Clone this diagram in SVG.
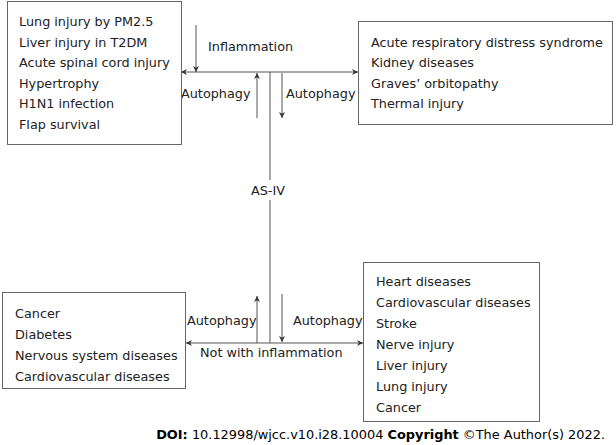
<svg xmlns="http://www.w3.org/2000/svg" width="616" height="445" viewBox="0 0 616 445">
<style>
text{font-family:"DejaVu Sans","Verdana",sans-serif;font-size:12.8px;fill:#222}
.box{fill:#fff;stroke:#666;stroke-width:1}
.ln{stroke:#555;stroke-width:1;fill:none}
.ft{font-size:12.9px;fill:#000}
</style>
<defs>
<marker id="ah" viewBox="0 0 10 10" refX="10" refY="5" markerWidth="8" markerHeight="6" markerUnits="userSpaceOnUse" orient="auto">
<path d="M0,0 L10,5 L0,10 L3,5 z" fill="#333"/>
</marker>
</defs>
<rect width="616" height="445" fill="#fff"/>
<g id="connectors">
<line class="ln" x1="270" y1="72" x2="270" y2="180"/>
<line class="ln" x1="270" y1="200" x2="270" y2="343"/>
<line class="ln" x1="270" y1="72" x2="181" y2="72" marker-end="url(#ah)"/>
<line class="ln" x1="270" y1="72" x2="358" y2="72" marker-end="url(#ah)"/>
<line class="ln" x1="196" y1="25" x2="196" y2="72" marker-end="url(#ah)"/>
<line class="ln" x1="257" y1="118" x2="257" y2="73" marker-end="url(#ah)"/>
<line class="ln" x1="282" y1="73" x2="282" y2="118" marker-end="url(#ah)"/>
<line class="ln" x1="270" y1="343" x2="186" y2="343" marker-end="url(#ah)"/>
<line class="ln" x1="270" y1="343" x2="363" y2="343" marker-end="url(#ah)"/>
<line class="ln" x1="257" y1="343" x2="257" y2="296" marker-end="url(#ah)"/>
<line class="ln" x1="282" y1="294" x2="282" y2="342" marker-end="url(#ah)"/>
<text x="208" y="51">Inflammation</text>
<text x="181" y="98">Autophagy</text>
<text x="286" y="98">Autophagy</text>
<text x="187" y="325">Autophagy</text>
<text x="293" y="325">Autophagy</text>
<text x="200" y="357">Not with inflammation</text>
</g>
<g id="asiv"><text x="268" y="194.5" text-anchor="middle">AS-IV</text></g>
<g id="box-tl">
<rect class="box" x="7.5" y="1.5" width="174" height="143"/>
<text x="19" y="26">Lung injury by PM2.5</text>
<text x="19" y="46.5">Liver injury in T2DM</text>
<text x="19" y="67">Acute spinal cord injury</text>
<text x="19" y="87.5">Hypertrophy</text>
<text x="19" y="108">H1N1 infection</text>
<text x="19" y="128.5">Flap survival</text>
</g>
<g id="box-tr">
<rect class="box" x="358.5" y="21.5" width="254" height="103"/>
<text x="371" y="46.5">Acute respiratory distress syndrome</text>
<text x="371" y="67">Kidney diseases</text>
<text x="371" y="87.5">Graves’ orbitopathy</text>
<text x="371" y="108">Thermal injury</text>
</g>
<g id="box-bl">
<rect class="box" x="2.5" y="292.5" width="183" height="96"/>
<text x="15" y="317.5">Cancer</text>
<text x="15" y="338.5">Diabetes</text>
<text x="15" y="359.5">Nervous system diseases</text>
<text x="15" y="380.5">Cardiovascular diseases</text>
</g>
<g id="box-br">
<rect class="box" x="363.5" y="262.5" width="176" height="159"/>
<text x="376" y="285.5">Heart diseases</text>
<text x="376" y="306.5">Cardiovascular diseases</text>
<text x="376" y="327.5">Stroke</text>
<text x="376" y="348.5">Nerve injury</text>
<text x="376" y="369.5">Liver injury</text>
<text x="376" y="390.5">Lung injury</text>
<text x="376" y="411.5">Cancer</text>
</g>
<g id="footer">
<text class="ft" x="605" y="439" text-anchor="end"><tspan font-weight="bold">DOI:</tspan> 10.12998/wjcc.v10.i28.10004 <tspan font-weight="bold">Copyright</tspan> ©The Author(s) 2022.</text>
</g>
</svg>
